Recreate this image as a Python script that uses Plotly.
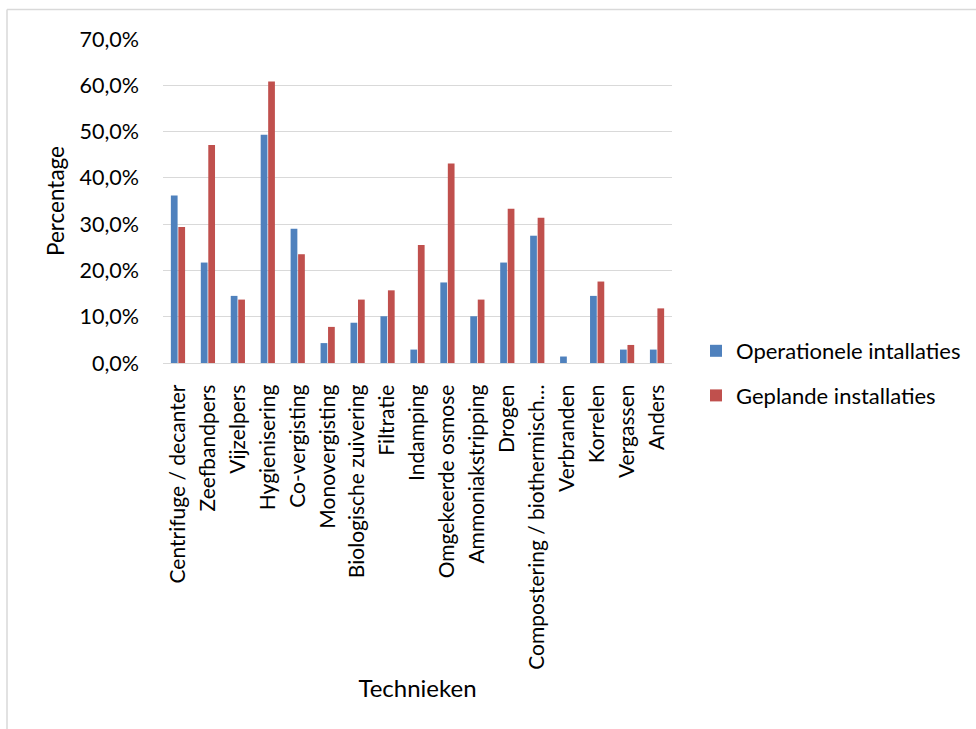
import plotly.graph_objects as go

# Technieken (categories) and percentages per installation type
technieken = [
    "Centrifuge / decanter",
    "Zeefbandpers",
    "Vijzelpers",
    "Hygienisering",
    "Co-vergisting",
    "Monovergisting",
    "Biologische zuivering",
    "Filtratie",
    "Indamping",
    "Omgekeerde osmose",
    "Ammoniakstripping",
    "Drogen",
    "Compostering / biothermisch…",
    "Verbranden",
    "Korrelen",
    "Vergassen",
    "Anders",
]
operationeel = [36.2, 21.7, 14.5, 49.3, 29.0, 4.3, 8.7, 10.1, 2.9, 17.4,
                10.1, 21.7, 27.5, 1.4, 14.5, 2.9, 2.9]
gepland = [29.4, 47.1, 13.7, 60.8, 23.5, 7.8, 13.7, 15.7, 25.5, 43.1,
           13.7, 33.3, 31.4, 0.0, 17.6, 3.9, 11.8]
y_ticks = [0, 10, 20, 30, 40, 50, 60, 70]

FONT = "Lato"
W, H = 976, 729
L, R, T, B = 163, 672, 39, 363  # plot area in pixels

def px_x(p):
    return (p - L) / (R - L)

def px_y(p):
    return 1 - (p - T) / (B - T)

fig = go.Figure()
fig.add_bar(x=technieken, y=[v / 100 for v in operationeel],
            name="Operationele intallaties", marker_color="#4F81BD",
            marker_line_width=0, legendgroup="op")
fig.add_bar(x=technieken, y=[v / 100 for v in gepland],
            name="Geplande installaties", marker_color="#C0504D",
            marker_line_width=0, legendgroup="gp")

fig.update_layout(
    width=W, height=H,
    margin=dict(l=L, r=W - R, t=T, b=H - B, autoexpand=False),
    paper_bgcolor="white", plot_bgcolor="white",
    separators=",.",
    barmode="group", bargap=0.5, bargroupgap=0.1,
    font=dict(family=FONT, size=21, color="#000000"),
    legend=dict(x=px_x(696), y=px_y(330), xanchor="left", yanchor="top",
                font=dict(size=22), tracegroupgap=13, bgcolor="rgba(0,0,0,0)"),
    showlegend=True,
)

fig.update_yaxes(
    range=[0, 0.7], tickvals=[v / 100 for v in y_ticks], tickformat=".1%",
    showgrid=True, gridcolor="#d9d9d9", gridwidth=1.3,
    zeroline=False, showline=False, ticks="",
    ticklabelstandoff=23, tickfont=dict(size=21.5),
    title=dict(text="Percentage", font=dict(size=22.5), standoff=8),
    automargin=False,
)
fig.update_xaxes(
    tickangle=-90, showline=True, linecolor="#d9d9d9", linewidth=1.3,
    ticks="", tickfont=dict(size=21), ticklabelstandoff=12,
    title=dict(text="Technieken", font=dict(size=24), standoff=11),
    automargin=False,
)

# Chart-area border (top and left edges)
border = dict(color="#d9d9d9", width=1.5)
fig.add_shape(type="line", xref="paper", yref="paper",
              x0=px_x(7), x1=px_x(W + 5), y0=px_y(9.5), y1=px_y(9.5), line=border)
fig.add_shape(type="line", xref="paper", yref="paper",
              x0=px_x(7), x1=px_x(7), y0=px_y(9.5), y1=px_y(H + 5), line=border)

fig.write_html("out.html")
